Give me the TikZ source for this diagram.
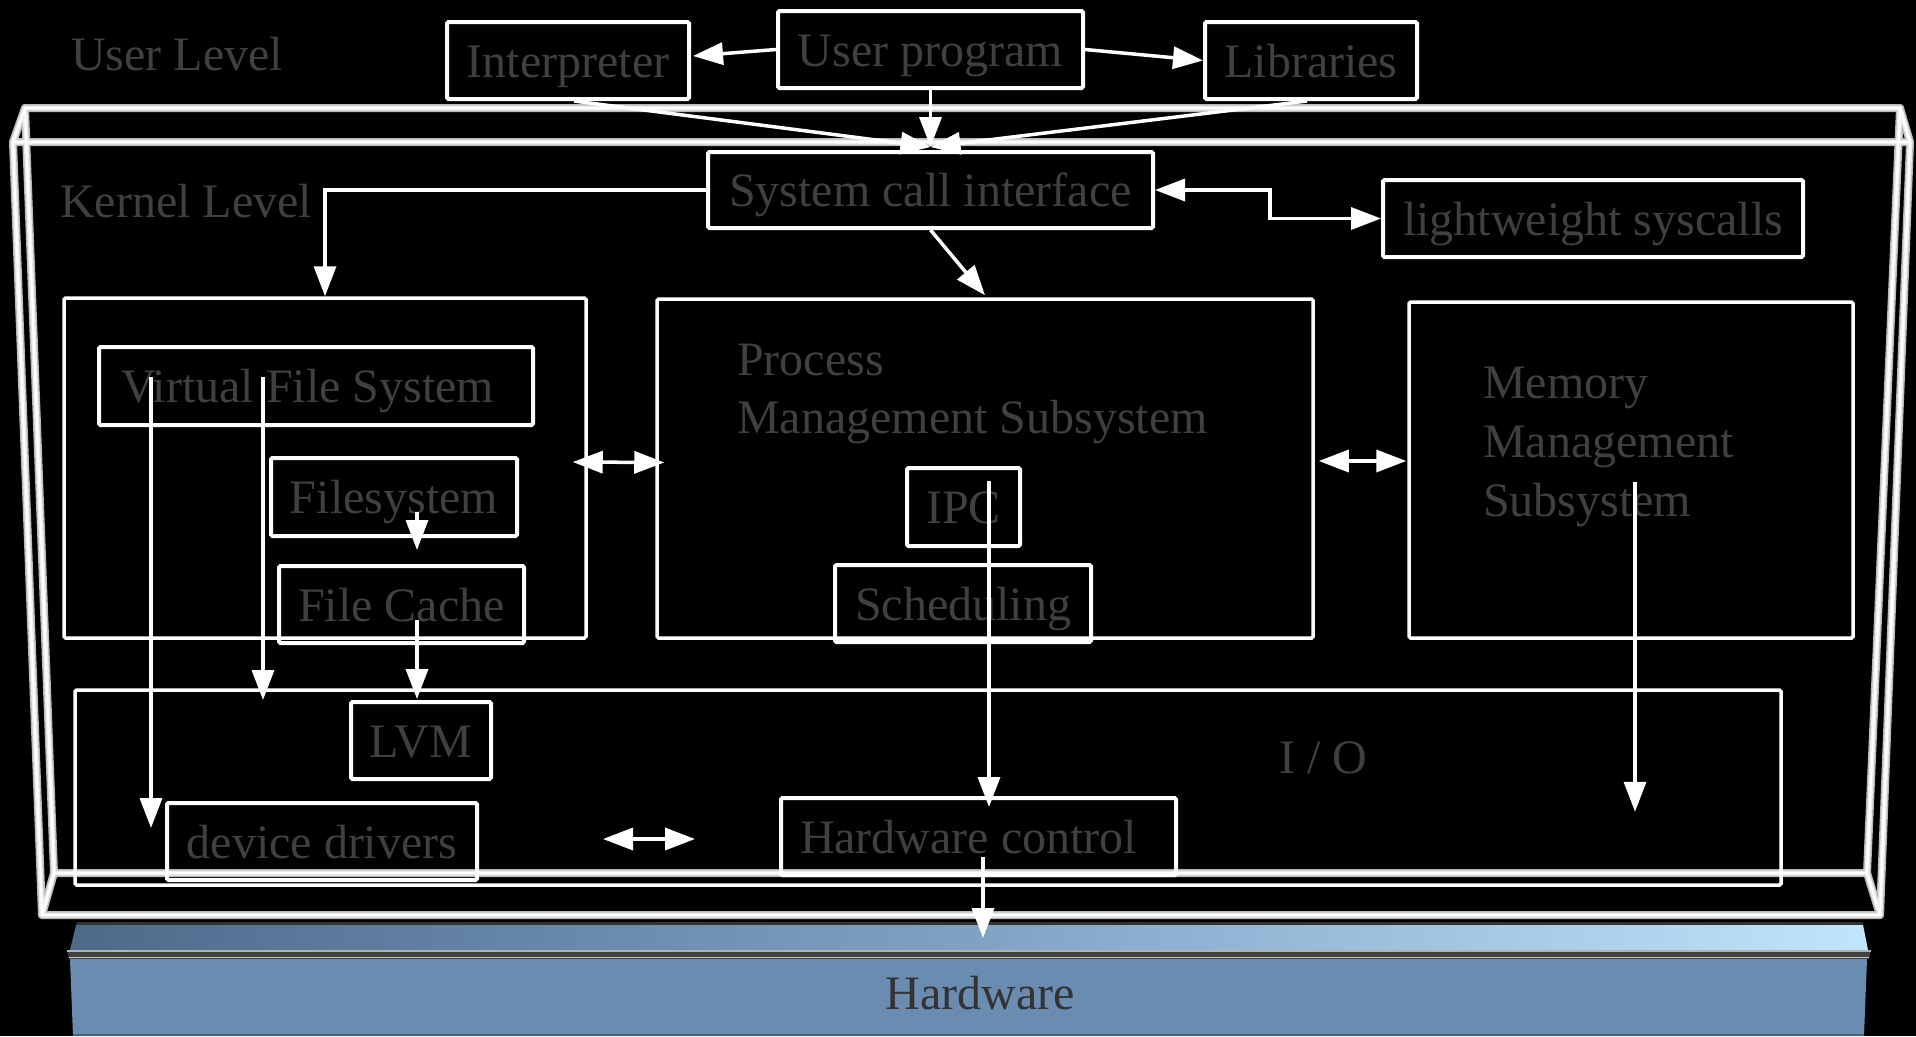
\documentclass[tikz,border=0pt]{standalone}
\usepackage{fontspec}
\setmainfont{Liberation Serif}
\usetikzlibrary{arrows.meta,calc}
\definecolor{txt}{HTML}{404040}
\definecolor{hwblue}{HTML}{6A8CB0}
\definecolor{bandL}{HTML}{4D6A8A}
\definecolor{bandM}{HTML}{7FA2C4}
\definecolor{bandR}{HTML}{BFE6FC}
\begin{document}
\begin{tikzpicture}[x=1pt,y=-1pt,
  lbl/.style={text=txt, inner sep=0pt, font=\fontsize{48}{58.5}\selectfont},
  box/.style={draw=white, line width=4pt, rounded corners=1.5pt, inner sep=0pt,
    text=txt, font=\fontsize{48}{58.5}\selectfont, text height=33pt, text depth=0pt},
  bigbox/.style={box, line width=3.5pt},
  arr/.style={draw=white, line width=3.5pt, -{Triangle[length=30pt,width=22pt]}},
  darr/.style={draw=white, line width=3.5pt,
    {Triangle[length=30pt,width=22pt]}-{Triangle[length=30pt,width=22pt]}},
  tubeA/.style={draw=gray!55, line width=8pt, line join=round, line cap=round},
  tubeB/.style={draw=gray!15, line width=5pt, line join=round, line cap=round},
  tubeC/.style={draw=white, line width=2pt, line join=round, line cap=round}]
\useasboundingbox (0,0) rectangle (1916,1036);
\fill[black] (0,0) rectangle (1916,1036);

% ---- 3D frame (wireframe box) ----
\foreach \s in {tubeA,tubeB,tubeC}{
  \draw[\s] (25,108) -- (1900,108) -- (1867,873) -- (54,873) -- cycle;
  \draw[\s] (25,108) -- (13,142);
  \draw[\s] (1900,108) -- (1910,142);
  \draw[\s] (54,873) -- (42,915);
  \draw[\s] (1867,873) -- (1880,915);
  \draw[\s] (13,142) -- (1910,142) -- (1880,915) -- (42,915) -- cycle;
}

% ---- Hardware block ----
\fill[black!80] (77,922) -- (1862,922) -- (1863,925) -- (76,925) -- cycle;
\shade[left color=bandL, right color=bandR, middle color=bandM]
  (76,925) -- (1863,925) -- (1868,950) -- (70,950) -- cycle;
\fill[black!75] (67,950) -- (1871,950) -- (1869,959) -- (69,959) -- cycle;
\draw[gray!60, line width=1.5pt] (67,951) -- (1871,951);
\draw[gray!45, line width=1pt] (69,957.5) -- (1869,957.5);
\fill[hwblue] (70,959) -- (1867,959) -- (1864,1036) -- (73,1036) -- cycle;
\draw[hwblue!70!black, line width=2pt] (73,1035) -- (1864,1035);
\node[lbl, text=black!80, anchor=base] (hw) at (980,1009) {Hardware};

% ---- level labels ----
\node[lbl, anchor=base west] (ulevel) at (71,70) {User Level};
\node[lbl, anchor=base west] (klevel) at (60,217) {Kernel Level};

% ---- user level boxes ----
\node[box, minimum width=242pt, minimum height=77pt] (interp) at (568,60.5) {Interpreter};
\node[box, minimum width=305pt, minimum height=77pt] (userprog) at (930.5,49.5) {User program};
\node[box, minimum width=212pt, minimum height=77pt] (libs) at (1311,60.5) {Libraries};

% ---- kernel boxes ----
\node[box, minimum width=445pt, minimum height=76pt] (sci) at (930.5,190) {System call interface};
\node[box, minimum width=420pt, minimum height=77pt] (lws) at (1593,218.5) {lightweight syscalls};

\node[bigbox, minimum width=522pt, minimum height=340pt] (vfsbox) at (325,468) {};
\node[box, minimum width=434pt, minimum height=78pt, text width=390pt, align=flush left] (vfs) at (316,386) {Virtual File System};
\node[box, minimum width=246pt, minimum height=78pt] (fs) at (394,497) {Filesystem};
\node[box, minimum width=245pt, minimum height=77pt] (fc) at (401.5,604.5) {File Cache};

\node[bigbox, minimum width=656pt, minimum height=339pt] (procbox) at (985,468.5) {};
\node[lbl, anchor=base west] (proc1) at (737,375) {Process};
\node[lbl, anchor=base west] (proc2) at (737,433) {Management Subsystem};
\node[box, minimum width=113pt, minimum height=78pt] (ipc) at (963.5,507) {IPC};
\node[box, minimum width=256pt, minimum height=77pt] (sched) at (963,603.5) {Scheduling};

\node[bigbox, minimum width=444pt, minimum height=336pt] (membox) at (1631,470) {};
\node[lbl, anchor=base west] (mem1) at (1483,398) {Memory};
\node[lbl, anchor=base west] (mem2) at (1483,457) {Management};
\node[lbl, anchor=base west] (mem3) at (1483,516) {Subsystem};

\node[bigbox, minimum width=1706pt, minimum height=195pt] (iobox) at (928,787.5) {};
\node[lbl, anchor=base west] (iolbl) at (1279,773) {I / O};
\node[box, minimum width=140pt, minimum height=77pt] (lvm) at (421,740.5) {LVM};
\node[box, minimum width=310pt, minimum height=77pt] (dd) at (322,841.5) {device drivers};
\node[box, minimum width=395pt, minimum height=77pt, text width=357pt, align=flush left] (hwc) at (978.5,836.5) {Hardware control};

% ---- connectors ----
\draw[arr] (userprog.west) -- ($(interp.east)+(2,-4.5)$);
\draw[arr] (userprog.east) -- (libs.west);
\draw[arr] (userprog.south) -- ($(sci.north)+(0,-3)$);
\draw[arr] ($(interp.south)+(6,0)$) -- ($(sci.north)+(0,-3)$);
\draw[arr] ($(libs.south)+(-4,0)$) -- ($(sci.north)+(0,-3)$);

\draw[arr] (sci.west) -| (vfsbox.north);
\draw[darr] (sci.east) -- ++(115,0) |- (lws.west);
\draw[arr] (sci.south) -- ($(procbox.north)+(0,-2)$);

\draw[darr] ($(vfsbox.east)+(-15,-6)$) -- ($(procbox.west)+(9,-6)$);
\draw[darr] ($(procbox.east)+(4,-7.5)$) -- ($(membox.west)+(-1,-9)$);
\draw[darr] ($(dd.east)+(124,-2.5)$) -- ($(hwc.west)+(-84,2.5)$);

\draw[arr] ($(vfs.north west)+(54,32)$) -- ($(dd.west)+(-14,-13.5)$);
\draw[arr] ($(vfs.north west)+(166,32)$) -- ($(vfs.north west)+(166,355)$);
\draw[arr] ($(fs.south)+(23,-26)$) -- ($(fs.south)+(23,12)$);
\draw[arr] ($(fc.south)+(15.5,-25)$) -- ($(lvm.north)+(-4,-1)$);
\draw[arr] ($(ipc.north)+(25.5,15)$) -- ($(hwc.north)+(10.5,11)$);
\draw[arr] ($(hwc.south)+(4.5,-20)$) -- ($(hwc.south)+(4.5,61)$);
\draw[arr] ($(membox.center)+(4,12)$) -- ($(membox.south)+(4,172)$);
\end{tikzpicture}
\end{document}
